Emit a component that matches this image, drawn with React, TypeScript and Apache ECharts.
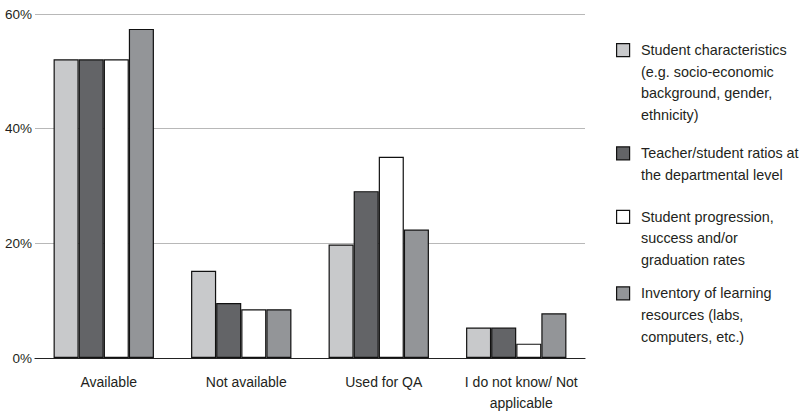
import React, { useEffect, useRef } from "react";
import * as echarts from "echarts";

const categories = ["Available", "Not available", "Used for QA", "I do not know/ Not\napplicable"];
const seriesNames = [
  "Student characteristics\n(e.g. socio-economic\nbackground, gender,\nethnicity)",
  "Teacher/student ratios at\nthe departmental level",
  "Student progression,\nsuccess and/or\ngraduation rates",
  "Inventory of learning\nresources (labs,\ncomputers, etc.)",
];
const studentCharacteristics = [52.1, 15.2, 19.8, 5.3];
const teacherStudentRatios = [52.1, 9.6, 29.1, 5.3];
const studentProgression = [52.1, 8.5, 35.1, 2.5];
const learningResources = [57.4, 8.5, 22.4, 7.8];
const yTicks = [0, 20, 40, 60];

const colors = ["#c8c9cb", "#636467", "#ffffff", "#939598"];
const legendFirstLineY = [50, 153.3, 216.7, 293.3];
const FONT = "Liberation Sans";
const TEXT = "#231f20";

export default function App() {
  const ref = useRef<HTMLDivElement>(null);
  useEffect(() => {
    document.body.style.margin = "0";
    if (!ref.current) return;
    const chart = echarts.init(ref.current, null, { renderer: "svg" });
    const values = [studentCharacteristics, teacherStudentRatios, studentProgression, learningResources];
    const lineH = 21.7;
    const legendGraphics: any[] = [];
    seriesNames.forEach((name, i) => {
      const cy = legendFirstLineY[i];
      legendGraphics.push({
        type: "rect",
        left: 616,
        top: cy - 7,
        shape: { width: 13, height: 13 },
        style: { fill: colors[i], stroke: "#111", lineWidth: 1.2 },
      });
      legendGraphics.push({
        type: "text",
        x: 641,
        y: cy - lineH / 2,
        style: {
          text: name,
          fontFamily: FONT,
          fontSize: 14.4,
          lineHeight: lineH,
          fill: TEXT,
          align: "left",
          verticalAlign: "top",
        },
      });
    });
    chart.setOption({
      animation: false,
      textStyle: { fontFamily: FONT },
      grid: { left: 35, right: 220, top: 14, bottom: 52, containLabel: false },
      xAxis: {
        type: "category",
        data: categories,
        axisLine: { lineStyle: { color: "#222", width: 1.2 } },
        axisTick: { show: false },
        axisLabel: {
          interval: 0,
          margin: 13,
          fontFamily: FONT,
          fontSize: 14,
          lineHeight: 21.5,
          color: TEXT,
          padding: [0, 0, 0, 10],
        },
      },
      yAxis: {
        type: "value",
        min: yTicks[0],
        max: yTicks[yTicks.length - 1],
        interval: 20,
        axisLine: { show: false },
        axisTick: { show: false },
        splitLine: { lineStyle: { color: "#b8b8b8", width: 1 } },
        axisLabel: {
          margin: 3,
          fontFamily: FONT,
          fontSize: 13.5,
          color: TEXT,
          formatter: (v: number) => `${v}%`,
        },
      },
      series: values.map((data, i) => ({
        type: "bar",
        name: seriesNames[i],
        data,
        barGap: "0%",
        barCategoryGap: "27%",
        itemStyle: { color: colors[i], borderColor: "#111", borderWidth: 1.2 },
      })),
      graphic: legendGraphics,
    });
    return () => chart.dispose();
  }, []);
  return <div ref={ref} style={{ width: 805, height: 414 }} />;
}
